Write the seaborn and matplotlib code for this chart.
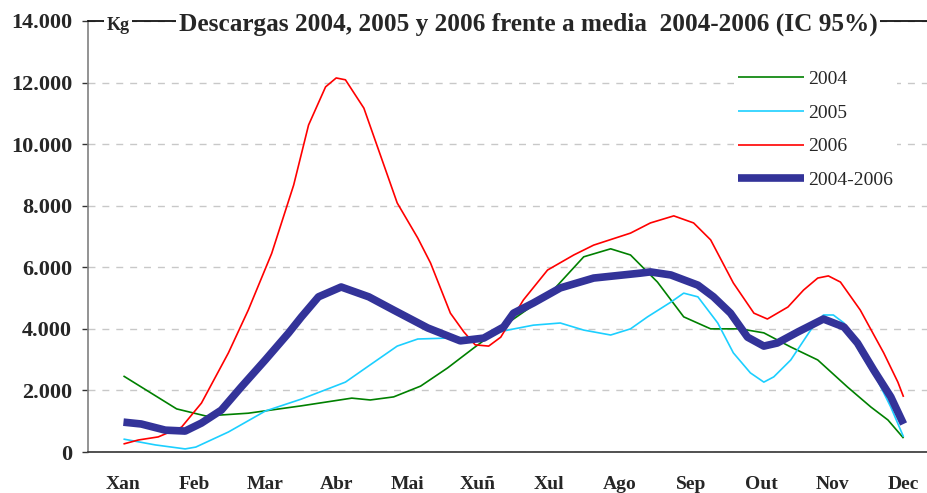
import numpy as np
import pandas as pd
import seaborn as sns
import matplotlib
matplotlib.use("Agg")
import matplotlib.pyplot as plt

# month positions: 0 = centre of Xan ... 11 = centre of Dec
months = ["Xan", "Feb", "Mar", "Abr", "Mai", "Xuñ", "Xul", "Ago", "Sep", "Out", "Nov", "Dec"]

x_2004 = [0, 0.75, 1.16, 1.76, 2.51, 3.22, 3.48, 3.81, 4.19, 4.57, 4.94, 5.32, 5.70,
          6.06, 6.49, 6.87, 7.15, 7.53, 7.90, 8.28, 8.70, 9.03, 9.41, 9.79, 10.21,
          10.54, 10.78, 11.0]
y_2004 = [2470, 1400, 1170, 1260, 1500, 1750, 1690, 1790, 2140, 2730, 3380, 4030, 4640,
          5260, 6340, 6600, 6400, 5520, 4390, 4000, 4000, 3870, 3410, 2990, 2110,
          1460, 1040, 450]

x_2005 = [0, 0.45, 0.87, 1.02, 1.48, 2.00, 2.51, 3.13, 3.46, 3.86, 4.15, 4.57, 4.99,
          5.42, 5.78, 6.16, 6.49, 6.87, 7.15, 7.39, 7.72, 7.90, 8.10, 8.38, 8.60,
          8.84, 9.03, 9.17, 9.41, 9.69, 9.87, 10.01, 10.16, 10.39, 10.63, 10.82, 11.0]
y_2005 = [420, 230, 100, 160, 650, 1330, 1720, 2270, 2800, 3440, 3670, 3700, 3730,
          3960, 4120, 4190, 3960, 3800, 4000, 4390, 4870, 5160, 5040, 4190, 3220,
          2570, 2270, 2440, 2990, 3960, 4450, 4450, 4190, 3220, 2340, 1460, 490]

x_2006 = [0, 0.21, 0.49, 0.82, 1.10, 1.48, 1.76, 2.09, 2.40, 2.61, 2.85, 3.00, 3.13,
          3.39, 3.86, 4.15, 4.33, 4.61, 4.80, 4.96, 5.15, 5.32, 5.64, 5.98, 6.35,
          6.63, 7.15, 7.43, 7.76, 8.04, 8.28, 8.60, 8.89, 9.08, 9.37, 9.59, 9.79,
          9.94, 10.11, 10.39, 10.72, 10.92, 11.0]
y_2006 = [260, 390, 490, 810, 1590, 3220, 4610, 6450, 8670, 10620, 11860, 12150, 12090,
          11170, 8090, 6950, 6140, 4510, 3900, 3480, 3440, 3730, 4940, 5910, 6400,
          6720, 7110, 7440, 7670, 7440, 6890, 5490, 4510, 4320, 4710, 5260, 5650,
          5720, 5520, 4610, 3220, 2270, 1790]

x_media = [0, 0.25, 0.59, 0.87, 1.10, 1.38, 1.66, 2.00, 2.33, 2.51, 2.75, 3.07, 3.46,
           3.81, 4.29, 4.75, 5.08, 5.36, 5.50, 5.78, 6.16, 6.63, 7.29, 7.43, 7.72,
           8.10, 8.32, 8.56, 8.80, 9.03, 9.22, 9.51, 9.87, 10.16, 10.35, 10.58,
           10.82, 11.0]
y_media = [970, 910, 710, 680, 940, 1360, 2110, 2990, 3870, 4390, 5040, 5360, 5040,
           4610, 4030, 3610, 3700, 4060, 4510, 4840, 5330, 5650, 5810, 5850, 5750,
           5420, 5040, 4510, 3730, 3440, 3540, 3900, 4320, 4060, 3540, 2660,
           1790, 910]

series = ["2004", "2005", "2006", "2004-2006"]
colors = {"2004": "#008000", "2005": "#1ccfff", "2006": "#ff0000", "2004-2006": "#333399"}
widths = {"2004": 1.2, "2005": 1.2, "2006": 1.2, "2004-2006": 5.5}

yticks = [0, 2000, 4000, 6000, 8000, 10000, 12000, 14000]
ytick_labels = ["0", "2.000", "4.000", "6.000", "8.000", "10.000", "12.000", "14.000"]

df = pd.concat([
    pd.DataFrame({"mes": x_2004, "kg": y_2004, "serie": "2004"}),
    pd.DataFrame({"mes": x_2005, "kg": y_2005, "serie": "2005"}),
    pd.DataFrame({"mes": x_2006, "kg": y_2006, "serie": "2006"}),
    pd.DataFrame({"mes": x_media, "kg": y_media, "serie": "2004-2006"}),
])

sns.set_theme(style="white")
plt.rcParams["font.family"] = ["Liberation Serif", "DejaVu Serif"]

fig = plt.figure(figsize=(9.28, 4.93), dpi=100)
ax = fig.add_axes([88 / 928, 41 / 493, 851 / 928, 431 / 493])

for s in series:
    sns.lineplot(data=df[df["serie"] == s], x="mes", y="kg", color=colors[s],
                 linewidth=widths[s], label=s, sort=False, estimator=None, ax=ax,
                 solid_capstyle="butt")

ax.set_xlim(-0.5, 11.5)
ax.set_ylim(0, 14000)
ax.set_xlabel("")
ax.set_ylabel("")

ax.set_xticks(range(12))
ax.set_xticklabels(months, fontsize=14, fontweight="bold")
ax.set_xticks(np.arange(-0.5, 12, 1), minor=True)
ax.tick_params(axis="x", which="major", length=0, pad=17)
ax.tick_params(axis="x", which="minor", length=5, width=1, color="#333333", direction="out")

ax.set_yticks(yticks)
ax.set_yticklabels(ytick_labels, fontsize=16, fontweight="bold")
ax.tick_params(axis="y", length=4, width=1, color="#333333", direction="out", pad=7.5, left=True)

ax.set_axisbelow(True)
ax.yaxis.grid(True, linestyle=(0, (5, 5)), color="#c8c8c8", linewidth=1)
ax.xaxis.grid(False)

ax.spines["left"].set_color("#808080")
ax.spines["bottom"].set_color("#333333")
ax.spines["top"].set_color("black")
ax.spines["right"].set_visible(False)
for sp in ["left", "bottom", "top"]:
    ax.spines[sp].set_linewidth(1.2)

leg = ax.legend(loc="upper left", bbox_to_anchor=(724 / 928, 1 - 57 / 493),
                bbox_transform=fig.transFigure, frameon=True, facecolor="white",
                edgecolor="none", framealpha=1, fontsize=14, handlelength=3.4,
                handletextpad=0.25, labelspacing=0.82, borderpad=0.2)

fig.text(528 / 928, 1 - 24 / 493,
         "Descargas 2004, 2005 y 2006 frente a media  2004-2006 (IC 95%)",
         ha="center", va="center", fontsize=18.2, fontweight="bold",
         bbox=dict(facecolor="white", edgecolor="none", pad=2))
fig.text(118 / 928, 1 - 25 / 493, "Kg", ha="center", va="center", fontsize=13,
         fontweight="bold", bbox=dict(facecolor="white", edgecolor="none", pad=2))

plt.savefig("out.png", dpi=100, facecolor="white")
